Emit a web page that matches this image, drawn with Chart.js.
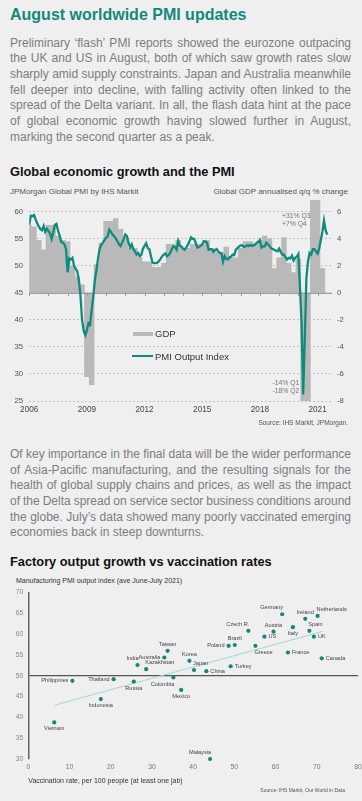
<!DOCTYPE html>
<html>
<head>
<meta charset="utf-8">
<script src="https://cdn.jsdelivr.net/npm/chart.js@4.4.1/dist/chart.umd.min.js"></script>
<style>
  body { margin: 0; background: #efefef; }
  #page { position: relative; width: 362px; height: 801px; overflow: hidden; background: #efefef;
          font-family: "Liberation Sans", Arial, sans-serif; }
  .t { position: absolute; white-space: nowrap; }
  h1 { position: absolute; left: 10px; top: 6px; margin: 0; font-size: 16px; line-height: 18px; color: #13897c; }
  h2 { position: absolute; left: 10px; margin: 0; font-size: 12.8px; line-height: 15px; color: #111; }
  .para { position: absolute; left: 10px; width: 341px; font-size: 12px; line-height: 15.7px; color: #7d7d7d;
          word-spacing: -1.5px; }
  .para span { display: block; text-align: justify; text-align-last: justify; }
  .para span.last { text-align-last: left; word-spacing: 0; }
  canvas { position: absolute; left: 0; }
</style>
</head>
<body>
<div id="page">
  <h1>August worldwide PMI updates</h1>
  <div class="para" style="top:35.5px">
    <span>Preliminary ‘flash’ PMI reports showed the eurozone outpacing</span>
    <span>the UK and US in August, both of which saw growth rates slow</span>
    <span>sharply amid supply constraints. Japan and Australia meanwhile</span>
    <span>fell deeper into decline, with falling activity often linked to the</span>
    <span>spread of the Delta variant. In all, the flash data hint at the pace</span>
    <span>of global economic growth having slowed further in August,</span>
    <span class="last">marking the second quarter as a peak.</span>
  </div>

  <h2 style="top:164px">Global economic growth and the PMI</h2>
  <div class="t" style="left:10px;top:187px;font-size:8px;color:#555">JPMorgan Global PMI by IHS Markit</div>
  <div class="t" style="right:14px;top:187px;font-size:8px;color:#555">Global GDP annualised q/q % change</div>

  <canvas id="pmiChart" width="362" height="220" style="top:196px;width:362px;height:220px"></canvas>

  <div class="t" style="left:133px;top:331.5px;width:20px;height:4.5px;background:#b9b9b9"></div>
  <div class="t" style="left:155px;top:328px;font-size:9.5px;line-height:11px;color:#333">GDP</div>
  <div class="t" style="left:132px;top:354.8px;width:21px;height:2.2px;background:#0f8b7d"></div>
  <div class="t" style="left:155px;top:350.5px;font-size:9.5px;line-height:11px;color:#333">PMI Output Index</div>
  <div class="t" style="left:282px;top:211.5px;font-size:6.8px;line-height:8.5px;color:#777">+31% Q3<br>+7% Q4</div>
  <div class="t" style="left:272.5px;top:378.5px;font-size:6.8px;line-height:8.2px;color:#777">-14% Q1<br>-18% Q2</div>
  <div class="t" style="right:14px;top:419px;font-size:6.5px;line-height:8px;color:#555">Source: IHS Markit, JPMorgan.</div>

  <div class="para" style="top:446.8px">
    <span>Of key importance in the final data will be the wider performance</span>
    <span>of Asia-Pacific manufacturing, and the resulting signals for the</span>
    <span>health of global supply chains and prices, as well as the impact</span>
    <span>of the Delta spread on service sector business conditions around</span>
    <span>the globe. July’s data showed many poorly vaccinated emerging</span>
    <span class="last">economies back in steep downturns.</span>
  </div>

  <h2 style="top:554px">Factory output growth vs vaccination rates</h2>
  <div class="t" style="left:16px;top:576.5px;font-size:7px;line-height:8.4px;color:#333">Manufacturing PMI output index (ave June-July 2021)</div>

  <canvas id="vaccChart" width="362" height="206" style="top:584px;width:362px;height:206px"></canvas>

  <div class="t" style="right:17px;top:786.5px;font-size:5px;line-height:6px;color:#555">Source: IHS Markit, Our World in Data</div>
</div>

<script>
const FONT = '"Liberation Sans", Arial, sans-serif';

// ---- chart 1: global PMI vs GDP ----
const yearTicks = [2006, 2009, 2012, 2015, 2018, 2021];
const pmiTicks = [25, 30, 35, 40, 45, 50, 55, 60];
const gdpTicks = [-8, -6, -4, -2, 0, 2, 4, 6];

// JPMorgan Global Composite PMI output index, monthly from Jan 2006 to Jul 2021
const pmiStart = 2006;
const pmiOutput = [
  57.6, 59.3, 59.2, 59.4, 58.6, 57.9, 57.3, 56.8, 56.6, 57.4, 56.3, 56.9,
  56.5, 56.0, 55.0, 56.2, 57.6, 57.8, 56.5, 55.6, 54.4, 54.3, 54.0, 53.1,
  48.8, 51.4, 51.2, 51.5, 50.0, 49.5, 49.0, 47.4, 44.5, 40.0, 38.0, 37.2,
  38.1, 39.4, 39.1, 41.9, 44.3, 47.4, 49.3, 51.5, 53.2, 53.9, 54.3, 54.8,
  55.2, 55.5, 56.7, 56.3, 55.8, 55.5, 55.1, 54.6, 54.0, 53.7, 54.3, 55.0,
  55.8, 55.5, 54.3, 53.4, 54.0, 53.1, 52.7, 52.1, 52.4, 51.8, 52.1, 53.2,
  53.7, 54.2, 53.3, 53.1, 51.8, 50.6, 50.5, 50.5, 50.6, 50.9, 51.3, 51.8,
  52.1, 52.3, 51.8, 52.0, 52.4, 53.1, 53.6, 53.5, 53.0, 54.6, 53.7, 53.6,
  53.2, 53.0, 53.4, 53.9, 54.5, 55.3, 55.0, 55.0, 54.2, 53.4, 53.5, 53.7,
  54.0, 54.6, 54.5, 54.3, 53.0, 53.1, 53.1, 52.6, 52.9, 53.1, 52.7, 52.4,
  52.3, 50.8, 51.8, 51.3, 51.2, 51.6, 51.7, 52.1, 52.0, 53.0, 53.3, 53.6,
  53.8, 53.8, 53.5, 53.6, 53.8, 53.7, 53.9, 53.7, 53.8, 53.9, 54.3, 54.4,
  54.8, 53.4, 53.6, 53.6, 54.3, 54.0, 53.7, 53.3, 53.1, 53.0, 52.8, 52.7,
  53.2, 52.6, 52.1, 52.1, 51.6, 51.2, 51.5, 51.4, 51.9, 51.0, 51.5, 51.7,
  52.2, 46.1, 39.4, 26.2, 36.3, 47.7, 50.8, 52.4, 52.1, 53.1, 53.1, 52.7,
  52.3, 53.2, 54.8, 56.3, 58.4, 56.6, 55.8
];

// Global GDP, annualised q/q %, quarterly from 2005 Q4 to 2021 Q1 (plotted at quarter end)
const gdpStart = 2006;
const gdpGrowth = [
  5.0,
  4.9, 3.9, 3.2, 5.0,
  5.0, 4.2, 3.9, 3.8,
  2.0, 1.2, 0.6, -6.2,
  -6.8, 2.1, 3.7, 5.3,
  5.3, 5.5, 4.7, 4.0,
  3.3, 3.3, 2.6, 2.3,
  2.3, 1.9, 1.9, 2.2,
  3.6, 3.6, 3.9, 3.3,
  3.3, 3.6, 3.6, 3.6,
  3.9, 3.3, 3.0, 3.0,
  3.4, 2.6, 2.6, 3.3,
  3.8, 3.8, 3.7, 3.9,
  4.2, 4.0, 1.8, 2.6,
  4.1, 2.2, 1.5, 2.5,
  -14, -18, 31, 7,
  1.8
];

const pmiMin = 25, pmiTop = 62.2;
const toGdp = v => (v - 45) / 2.5;   // the two axes share gridlines: 45 <-> 0

const zeroLine = {
  id: 'zeroLine',
  afterDatasetDraw(chart, args) {
    if (args.meta.type !== 'bar') return;
    const { ctx, chartArea } = chart;
    const y = chart.scales.y.getPixelForValue(45);
    ctx.save();
    ctx.strokeStyle = '#9a9a9a';
    ctx.lineWidth = 1;
    ctx.beginPath();
    ctx.moveTo(chartArea.left, y + 0.5);
    ctx.lineTo(chartArea.right, y + 0.5);
    for (let yr = 2006; yr <= 2021; yr++) {
      const x = Math.round(chart.scales.x.getPixelForValue(yr)) + 0.5;
      ctx.moveTo(x, y);
      ctx.lineTo(x, y + 3);
    }
    ctx.stroke();
    ctx.restore();
  }
};

new Chart(document.getElementById('pmiChart'), {
  type: 'bar',
  data: {
    datasets: [
      {
        type: 'line',
        label: 'PMI Output Index',
        data: pmiOutput.map((v, i) => ({ x: pmiStart + i / 12, y: v })),
        borderColor: '#0f8b7d',
        borderWidth: 2.3,
        pointRadius: 0,
        tension: 0,
        yAxisID: 'y',
        order: 0
      },
      {
        type: 'bar',
        label: 'GDP',
        data: gdpGrowth.map((v, i) => ({ x: gdpStart + i / 4, y: v })),
        backgroundColor: '#b9b9b9',
        borderWidth: 0,
        barPercentage: 1,
        categoryPercentage: 1,
        grouped: false,
        yAxisID: 'y1',
        order: 1
      }
    ]
  },
  options: {
    responsive: false,
    animation: false,
    devicePixelRatio: 1,
    layout: { padding: { top: 4, left: 0, right: 0, bottom: 0 } },
    plugins: { legend: { display: false }, tooltip: { enabled: false } },
    scales: {
      x: {
        type: 'linear', min: 2006, max: 2021.75, offset: false,
        afterBuildTicks: a => { a.ticks = yearTicks.map(v => ({ value: v })); },
        afterFit: s => { s.height = 15; s.paddingLeft = 0; s.paddingRight = 0; },
        grid: { display: false, drawTicks: false },
        border: { display: false },
        ticks: { autoSkip: false, maxRotation: 0, padding: 4, color: '#444',
                 font: { family: FONT, size: 8.2 }, callback: v => String(v) }
      },
      y: {
        position: 'left', min: pmiMin, max: pmiTop,
        afterBuildTicks: a => { a.ticks = pmiTicks.map(v => ({ value: v })); },
        afterFit: s => { s.width = 29.2; s.paddingTop = 0; s.paddingBottom = 0; },
        grid: { color: '#c4c4c4', lineWidth: 1, drawTicks: false },
        border: { display: false, dash: [2, 2] },
        ticks: { padding: 6, color: '#555', font: { family: FONT, size: 7.8 } }
      },
      y1: {
        position: 'right', min: toGdp(pmiMin), max: toGdp(pmiTop),
        afterBuildTicks: a => { a.ticks = gdpTicks.map(v => ({ value: v })); },
        afterFit: s => { s.width = 30; s.paddingTop = 0; s.paddingBottom = 0; },
        grid: { display: false, drawTicks: false },
        border: { display: false },
        ticks: { padding: 5, color: '#555', font: { family: FONT, size: 7.8 } }
      }
    }
  },
  plugins: [zeroLine]
});

// ---- chart 2: factory output vs vaccination ----
const vaccTicks = [0, 10, 20, 30, 40, 50, 60, 70, 80];
const outputTicks = [30, 35, 40, 45, 50, 55, 60, 65, 70];

const countries = ['Vietnam', 'Philippines', 'Indonesia', 'Thailand', 'Russia', 'India', 'Kazakhstan',
  'Australia', 'Taiwan', 'Colombia', 'Mexico', 'Korea', 'Japan', 'China', 'Turkey', 'Malaysia',
  'Poland', 'Brazil', 'Greece', 'Czech R.', 'US', 'Austria', 'Germany', 'Italy', 'Ireland',
  'Spain', 'UK', 'Netherlands', 'France', 'Canada'];
const vaccinated = [6.3, 10.7, 17.6, 20.7, 25.6, 26.5, 28.6,
  33.0, 33.8, 35.2, 37.1, 39.1, 40.2, 43.2, 49.1, 44.1,
  48.6, 50.1, 55.1, 53.4, 57.3, 59.5, 61.6, 64.2, 67.2,
  68.2, 69.3, 70.2, 63.0, 71.2];
const pmiOutputAvg = [38.8, 48.8, 44.4, 49.2, 48.6, 52.6, 51.6,
  54.4, 56.0, 49.6, 46.6, 53.6, 51.4, 51.1, 52.3, 30.0,
  57.2, 57.4, 57.2, 60.8, 59.4, 60.6, 64.8, 61.7, 63.7,
  60.8, 59.4, 64.4, 55.6, 54.2];
// where each country name sits relative to its dot
const labelSide = ['b', 'l', 'b', 'l', 'b', 'tl', 'tr',
  'l', 't', 'bl', 'b', 't', 'tr', 'r', 'r', 'tl',
  'l', 't', 'br', 'tl', 'r', 't', 'tl', 'b', 't',
  'tr', 'r', 'tr', 'r', 'r'];
// fitted trend line end points
const trendX = [6.5, 71.5];
const trendY = [43.0, 60.7];

const pointLabels = {
  id: 'pointLabels',
  afterDatasetsDraw(chart) {
    const { ctx } = chart;
    const xs = chart.scales.x, ys = chart.scales.y;
    ctx.save();
    ctx.font = '5.6px ' + FONT;
    ctx.fillStyle = '#444';
    countries.forEach((name, i) => {
      const px = xs.getPixelForValue(vaccinated[i]);
      const py = ys.getPixelForValue(pmiOutputAvg[i]);
      const side = labelSide[i];
      let x = px, y = py, align = 'center';
      if (side.includes('t')) y -= 6.5;
      if (side.includes('b')) y += 6.5;
      if (side === 'l') { x -= 4; align = 'right'; }
      if (side === 'r') { x += 4; align = 'left'; }
      if (side === 'tl' || side === 'bl') { x += 1; align = 'right'; }
      if (side === 'tr' || side === 'br') { x -= 1; align = 'left'; }
      ctx.textAlign = align;
      ctx.textBaseline = 'middle';
      ctx.fillText(name, x, y);
    });
    ctx.restore();
  }
};

new Chart(document.getElementById('vaccChart'), {
  type: 'scatter',
  data: {
    datasets: [
      {
        label: 'Countries',
        data: vaccinated.map((v, i) => ({ x: v, y: pmiOutputAvg[i] })),
        backgroundColor: '#12887b',
        borderWidth: 0,
        pointRadius: 2.1,
        clip: false,
        order: 0
      },
      {
        type: 'line',
        label: 'Trend',
        data: trendX.map((v, i) => ({ x: v, y: trendY[i] })),
        borderColor: '#a8d9d0',
        borderWidth: 1.1,
        pointRadius: 0,
        showLine: true,
        order: 1
      }
    ]
  },
  options: {
    responsive: false,
    animation: false,
    devicePixelRatio: 1,
    layout: { padding: { top: 8.6, left: 0, right: 0, bottom: 0 } },
    plugins: { legend: { display: false }, tooltip: { enabled: false } },
    scales: {
      x: {
        type: 'linear', min: 0, max: 80,
        afterBuildTicks: a => { a.ticks = vaccTicks.map(v => ({ value: v })); },
        afterFit: s => { s.height = 31; s.paddingLeft = 0; s.paddingRight = 0; },
        grid: { display: false, drawTicks: false },
        border: { display: false },
        ticks: { padding: 4, color: '#777', font: { family: FONT, size: 6.8 } },
        title: { display: true, text: 'Vaccination rate, per 100 people (at least one jab)', align: 'start',
                 color: '#333', font: { family: FONT, size: 7 }, padding: { top: 0, bottom: 4.5 } }
      },
      y: {
        min: 30, max: 70,
        afterBuildTicks: a => { a.ticks = outputTicks.map(v => ({ value: v })); },
        afterFit: s => { s.width = 28.3; s.paddingTop = 0; s.paddingBottom = 0; },
        grid: { drawTicks: false, lineWidth: 1.3,
                color: c => (c.tick && c.tick.value === 50) ? '#555' : 'rgba(0,0,0,0)' },
        border: { display: true, color: '#666', width: 1.5 },
        ticks: { padding: 5, color: '#888', font: { family: FONT, size: 6.8 } }
      }
    }
  },
  plugins: [pointLabels]
});
</script>
</body>
</html>
